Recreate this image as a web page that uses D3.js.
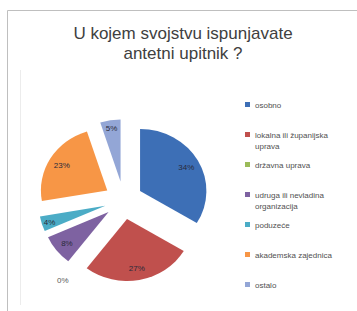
<!DOCTYPE html>
<html><head><meta charset="utf-8">
<script src="https://cdn.jsdelivr.net/npm/d3@7"></script>
<style>body{margin:0;background:#fff}svg{display:block}</style>
</head><body>
<svg id="c" width="357" height="311"></svg>
<script>
const categories = ["osobno","lokalna ili županijska uprava","državna uprava","udruga ili nevladina organizacija","poduzeće","akademska zajednica","ostalo"];
const legendLines = [["osobno"],["lokalna ili županijska","uprava"],["državna uprava"],["udruga ili nevladina","organizacija"],["poduzeće"],["akademska zajednica"],["ostalo"]];
const values = [34,27,0,8,4,23,5];
const labels = ["34%","27%","0%","8%","4%","23%","5%"];
const colors = ["#3d6fb6","#c0504d","#9bbb59","#7e62a1","#4bacc6","#f79646","#93a6d6"];
const titleLines = ["U kojem svojstvu ispunjavate","antetni upitnik ?"];

const svg = d3.select("#c");
// chart frame
svg.append("path").attr("d","M7.5,311 V10.5 H357").attr("fill","none").attr("stroke","#bfbfbf").attr("stroke-width",1);
svg.append("line").attr("x1",20.5).attr("x2",20.5).attr("y1",70).attr("y2",305).attr("stroke","#ececec");

svg.append("g").selectAll("text").data(titleLines).join("text")
  .attr("x",183).attr("y",(d,i)=>39+i*19.5).attr("text-anchor","middle")
  .attr("font-family","Liberation Sans, Arial, sans-serif").attr("font-size",17).attr("fill","#404040").text(d=>d);

const cx=123.5, cy=200.3, r=62, sx=1.07, d=19;
const pie = d3.pie().value(v=>v).sort(null);
const arcs = pie(values);
const arc = d3.arc().innerRadius(0).outerRadius(r);
const g = svg.append("g");
arcs.forEach((a,i)=>{
  if(a.endAngle-a.startAngle<1e-6) return;
  const m=(a.startAngle+a.endAngle)/2;
  const ox=cx+d*Math.sin(m), oy=cy-d*Math.cos(m);
  g.append("path").attr("d",arc(a)).attr("fill",colors[i])
    .attr("transform",`translate(${ox},${oy}) scale(${sx},1)`);
  const t=(values[i]<6?0.88:0.8)*r;
  g.append("text").attr("x",ox+t*sx*Math.sin(m)).attr("y",oy-t*Math.cos(m)+3)
    .attr("text-anchor","middle").attr("font-family","Liberation Sans, Arial, sans-serif")
    .attr("font-size",8).attr("fill","#2a2a3a").text(labels[i]);
});
// zero slice label outside
arcs.forEach((a,i)=>{
  if(a.endAngle-a.startAngle>=1e-6) return;
  const m=a.startAngle, t=100;
  g.append("text").attr("x",cx+t*Math.sin(m)).attr("y",cy-t*Math.cos(m)+3)
    .attr("text-anchor","middle").attr("font-family","Liberation Sans, Arial, sans-serif")
    .attr("font-size",8).attr("fill","#595959").text(labels[i]);
});

const leg = svg.append("g");
const ly = d3.scalePoint().domain(categories).range([105,285]);
categories.forEach((c,i)=>{
  const y=ly(c);
  leg.append("rect").attr("x",245).attr("y",y-3).attr("width",5).attr("height",5).attr("fill",colors[i]);
  leg.append("text").attr("x",255).attr("y",y+2.5).attr("font-family","Liberation Sans, Arial, sans-serif")
    .attr("font-size",8).attr("fill","#505050")
    .selectAll("tspan").data(legendLines[i]).join("tspan").attr("x",255).attr("dy",(t,j)=>j?11:0).text(t=>t);
});
</script>
</body></html>
